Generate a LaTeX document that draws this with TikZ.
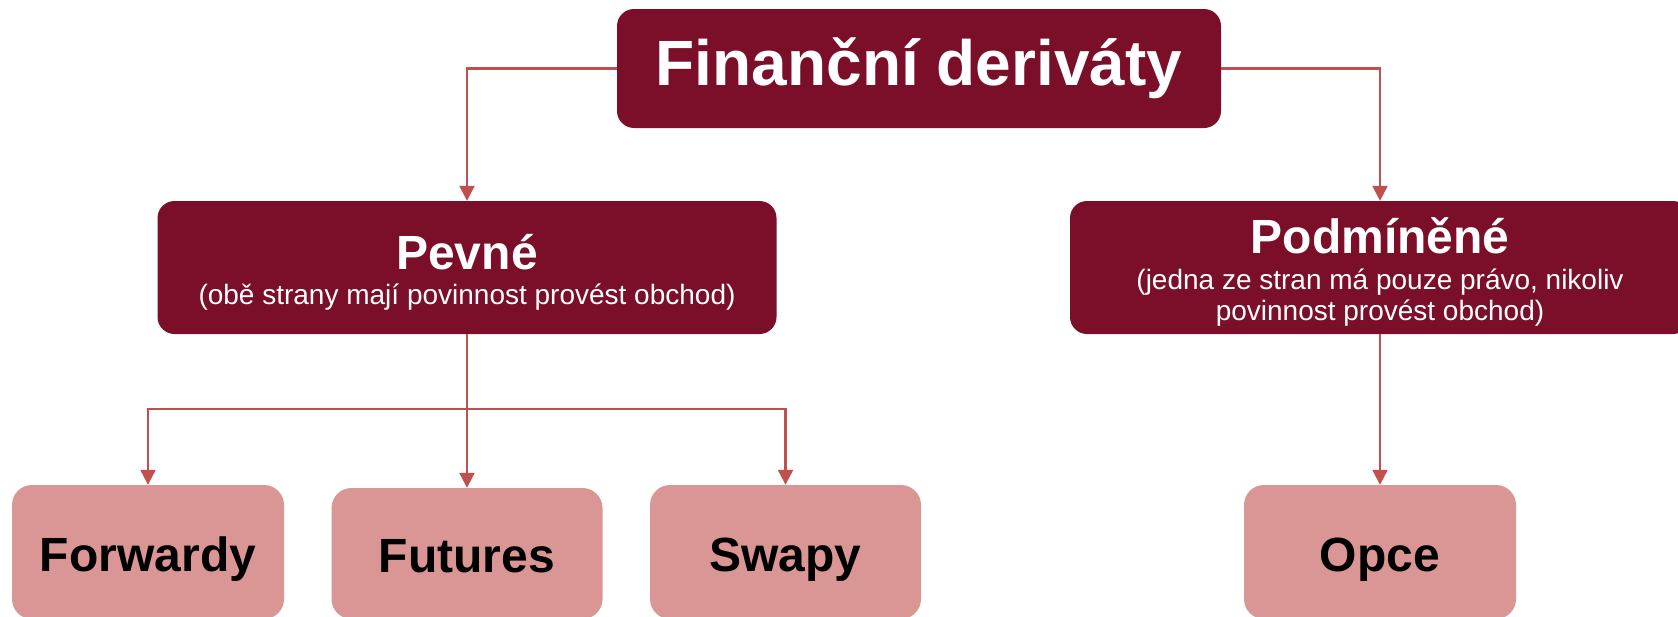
\documentclass[tikz,border=0pt]{standalone}
\usepackage{fontspec}
\setmainfont{Liberation Sans}
\usepackage{xcolor}
\usetikzlibrary{arrows.meta, positioning}

\definecolor{darkwine}{HTML}{7B0F2A}
\definecolor{rosebox}{HTML}{D99694}
\definecolor{linkred}{HTML}{C0504D}

\begin{document}
\begin{tikzpicture}[x=1pt, y=-1pt,
    topbox/.style={rectangle, rounded corners=17pt, fill=darkwine, text=white,
        minimum width=604pt, minimum height=119pt, inner sep=0pt,
        font=\fontsize{64}{70}\selectfont\bfseries},
    catbox/.style={rectangle, rounded corners=17pt, fill=darkwine,
        minimum width=619pt, minimum height=133pt, inner sep=0pt},
    cattext/.style={text=white, inner sep=0pt, align=center,
        font=\fontsize{28}{31}\selectfont},
    leafbox/.style={rectangle, rounded corners=20pt, fill=rosebox, text=black,
        minimum width=272pt, minimum height=134pt, inner sep=0pt,
        text height=38pt, text depth=0pt,
        font=\fontsize{48}{52}\selectfont\bfseries},
    link/.style={draw=linkred, line width=2.2pt,
        -{Triangle[length=15pt, width=15pt]}}]
    \useasboundingbox (0,0) rectangle (1678,616);

    % Nodes
    \node[topbox] (fin) at (919,68.5) {Finanční deriváty};
    \node[catbox] (fixed) at (467,267.5) {};
    \node[cattext] (fixedtext) at (467,272) {{\fontsize{48}{52}\selectfont\bfseries Pevné}\\[4pt]
        (obě strany mají povinnost provést obchod)};
    \node[catbox, minimum width=620pt] (cond) at (1380,267.5) {};
    \node[cattext] (condtext) at (1380,272) {{\fontsize{48}{52}\selectfont\bfseries Podmíněné}\\[5pt]
        (jedna ze stran má pouze právo, nikoliv\\ povinnost provést obchod)};
    \node[leafbox] (fwd) at (148,552) {Forwardy};
    \node[leafbox, minimum width=271pt, minimum height=131pt] (fut) at (467,553.5) {Futures};
    \node[leafbox, minimum width=271pt] (swap) at (785.5,552) {Swapy};
    \node[leafbox] (opce) at (1380,552) {Opce};
    \coordinate (split) at (467,409);

    % Edges
    \draw[link] (fin.west) -| (fixed.north);
    \draw[link] (fin.east) -| (cond.north);
    \draw[link] (fixed.south) -- (fut.north);
    \draw[link] (split) -| (fwd.north);
    \draw[link] (split) -| (swap.north);
    \draw[link] (cond.south) -- (opce.north);
\end{tikzpicture}
\end{document}
